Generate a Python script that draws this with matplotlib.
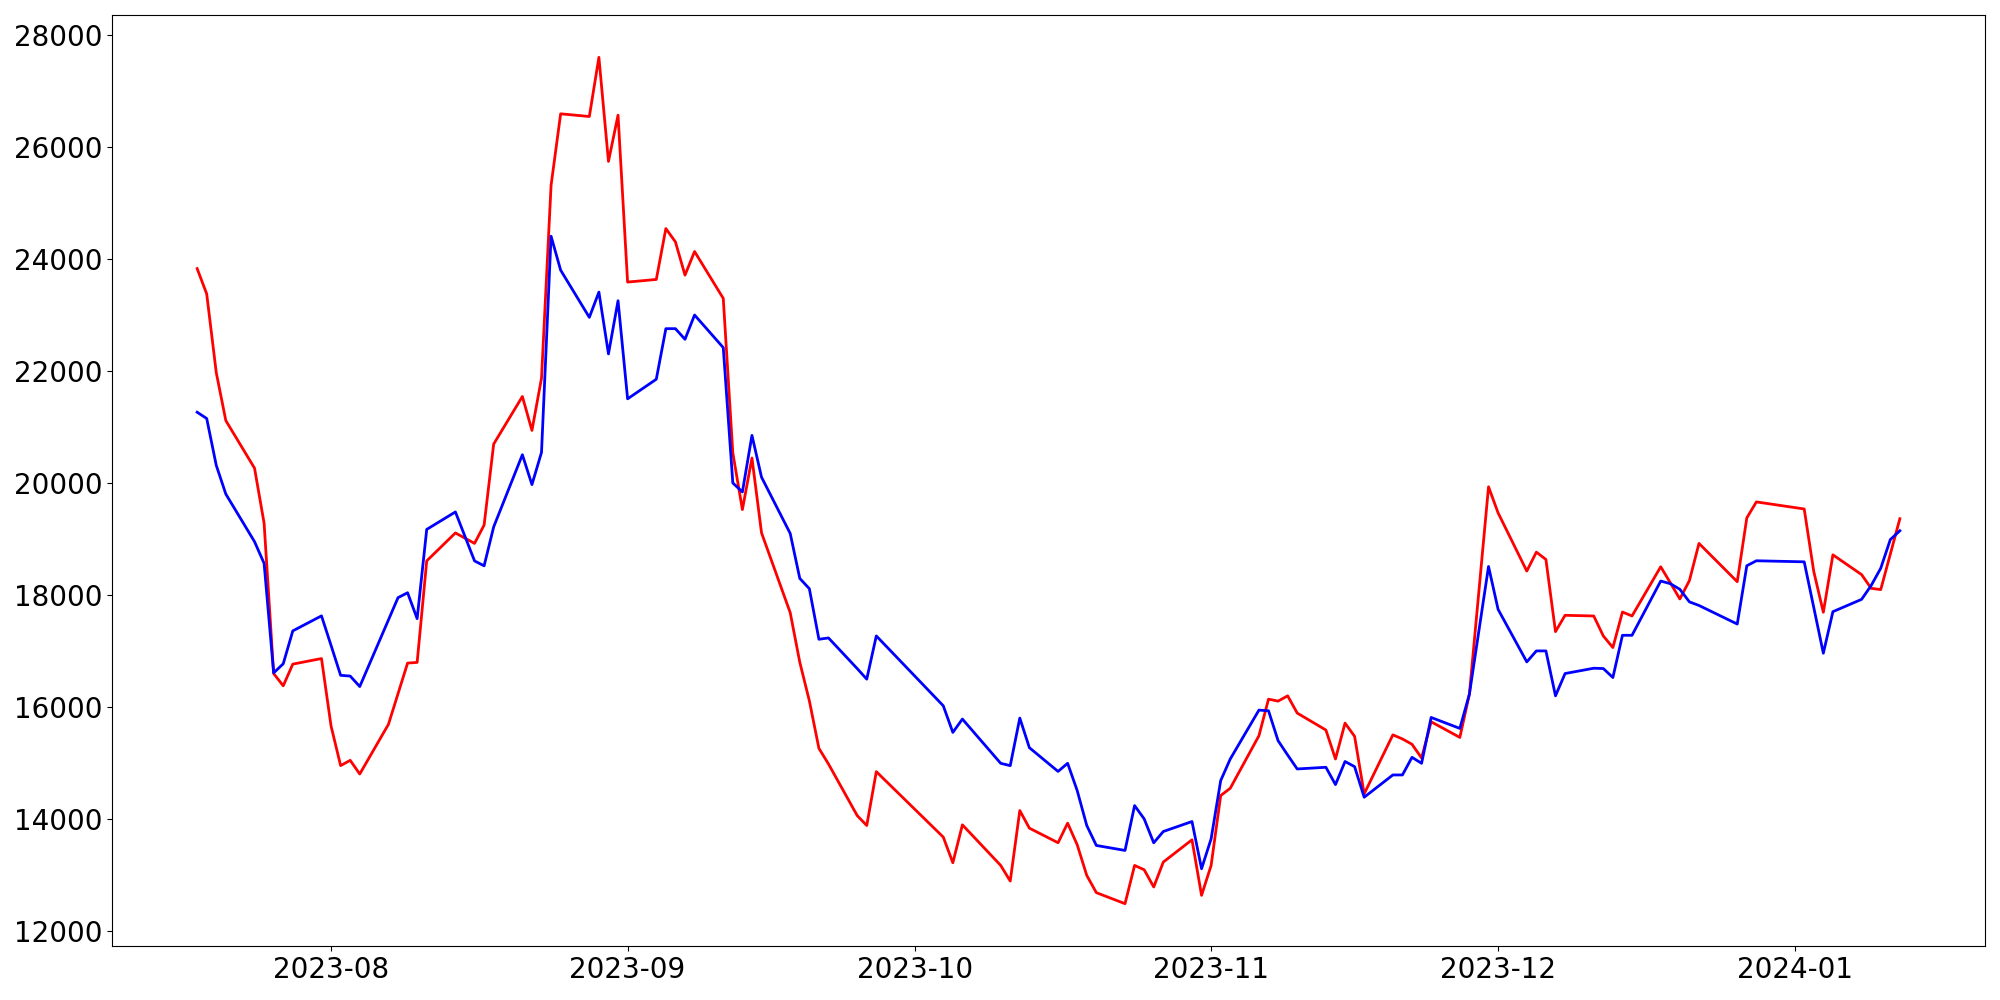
import matplotlib
matplotlib.use("Agg")
import matplotlib.pyplot as plt
import matplotlib.dates as mdates
import pandas as pd

dates = [
    "2023-07-18", "2023-07-19", "2023-07-20", "2023-07-21", "2023-07-24", "2023-07-25",
    "2023-07-26", "2023-07-27", "2023-07-28", "2023-07-31", "2023-08-01", "2023-08-02",
    "2023-08-03", "2023-08-04", "2023-08-07", "2023-08-08", "2023-08-09", "2023-08-10",
    "2023-08-11", "2023-08-14", "2023-08-16", "2023-08-17", "2023-08-18", "2023-08-21",
    "2023-08-22", "2023-08-23", "2023-08-24", "2023-08-25", "2023-08-28", "2023-08-29",
    "2023-08-30", "2023-08-31", "2023-09-01", "2023-09-04", "2023-09-05", "2023-09-06",
    "2023-09-07", "2023-09-08", "2023-09-11", "2023-09-12", "2023-09-13", "2023-09-14",
    "2023-09-15", "2023-09-18", "2023-09-19", "2023-09-20", "2023-09-21", "2023-09-22",
    "2023-09-25", "2023-09-26", "2023-09-27", "2023-10-04", "2023-10-05", "2023-10-06",
    "2023-10-10", "2023-10-11", "2023-10-12", "2023-10-13", "2023-10-16", "2023-10-17",
    "2023-10-18", "2023-10-19", "2023-10-20", "2023-10-23", "2023-10-24", "2023-10-25",
    "2023-10-26", "2023-10-27", "2023-10-30", "2023-10-31", "2023-11-01", "2023-11-02",
    "2023-11-03", "2023-11-06", "2023-11-07", "2023-11-08", "2023-11-09", "2023-11-10",
    "2023-11-13", "2023-11-14", "2023-11-15", "2023-11-16", "2023-11-17", "2023-11-20",
    "2023-11-21", "2023-11-22", "2023-11-23", "2023-11-24", "2023-11-27", "2023-11-28",
    "2023-11-30", "2023-12-01", "2023-12-04", "2023-12-05", "2023-12-06", "2023-12-07",
    "2023-12-08", "2023-12-11", "2023-12-12", "2023-12-13", "2023-12-14", "2023-12-15",
    "2023-12-18", "2023-12-19", "2023-12-20", "2023-12-21", "2023-12-22", "2023-12-26",
    "2023-12-27", "2023-12-28", "2024-01-02", "2024-01-03", "2024-01-04", "2024-01-05",
    "2024-01-08", "2024-01-09", "2024-01-10", "2024-01-11", "2024-01-12",
]

red_series = [
    23830, 23378, 21972, 21115, 20266, 19284,
    16597, 16379, 16766, 16866, 15660, 14954,
    15048, 14804, 15691, 16238, 16785, 16797,
    18610, 19109, 18922, 19250, 20696, 21546,
    20940, 21872, 25317, 26594, 26546, 27603,
    25744, 26570, 23589, 23636, 24545, 24307,
    23713, 24135, 23298, 20536, 19526, 20447,
    19111, 17685, 16800, 16111, 15262, 14983,
    14062, 13884, 14846, 13677, 13219, 13896,
    13172, 12892, 14151, 13837, 13576, 13926,
    13540, 12993, 12685, 12488, 13171, 13094,
    12786, 13231, 13629, 12637, 13171, 14419,
    14549, 15488, 16141, 16105, 16200, 15892,
    15589, 15072, 15713, 15476, 14449, 15503,
    15430, 15335, 15090, 15737, 15457, 16230,
    19933, 19467, 18428, 18766, 18635, 17347,
    17638, 17626, 17269, 17062, 17697, 17626,
    18505, 18220, 17930, 18258, 18922, 18238,
    19378, 19663, 19537, 18420, 17692, 18718,
    18365, 18120, 18097, 18730, 19363,
]

blue_series = [
    21265, 21153, 20316, 19803, 18953, 18566,
    16610, 16772, 17360, 17628, 17100, 16566,
    16553, 16366, 17556, 17953, 18041, 17578,
    19172, 19484, 18609, 18522, 19217, 20506,
    19972, 20548, 24408, 23802, 22959, 23410,
    22306, 23256, 21504, 21854, 22757, 22757,
    22567, 23001, 22419, 20001, 19841, 20851,
    20105, 19099, 18297, 18113, 17210, 17234,
    16687, 16498, 17270, 16022, 15547, 15785,
    14995, 14953, 15803, 15274, 14850, 14995,
    14508, 13884, 13528, 13439, 14240, 14003,
    13575, 13777, 13955, 13112, 13647, 14686,
    15072, 15945, 15933, 15399, 15143, 14894,
    14924, 14615, 15027, 14935, 14389, 14787,
    14787, 15102, 14995, 15814, 15618, 16230,
    18510, 17744, 16806, 17002, 17002, 16200,
    16598, 16693, 16687, 16527, 17281, 17281,
    18250, 18203, 18103, 17878, 17814, 17482,
    18523, 18612, 18593, 17777, 16961, 17703,
    17923, 18170, 18478, 18990, 19148,
]

x = pd.to_datetime(dates)

fig, ax = plt.subplots(figsize=(20, 10), dpi=100)
fig.subplots_adjust(left=0.056, right=0.9925, top=0.985, bottom=0.054)

ax.plot(x, red_series, color="red", linewidth=2)
ax.plot(x, blue_series, color="blue", linewidth=2)

ax.xaxis.set_major_locator(mdates.MonthLocator())
ax.xaxis.set_major_formatter(mdates.DateFormatter("%Y-%m"))
ax.tick_params(axis="both", labelsize=20)

fig.savefig("out.png", dpi=100)
